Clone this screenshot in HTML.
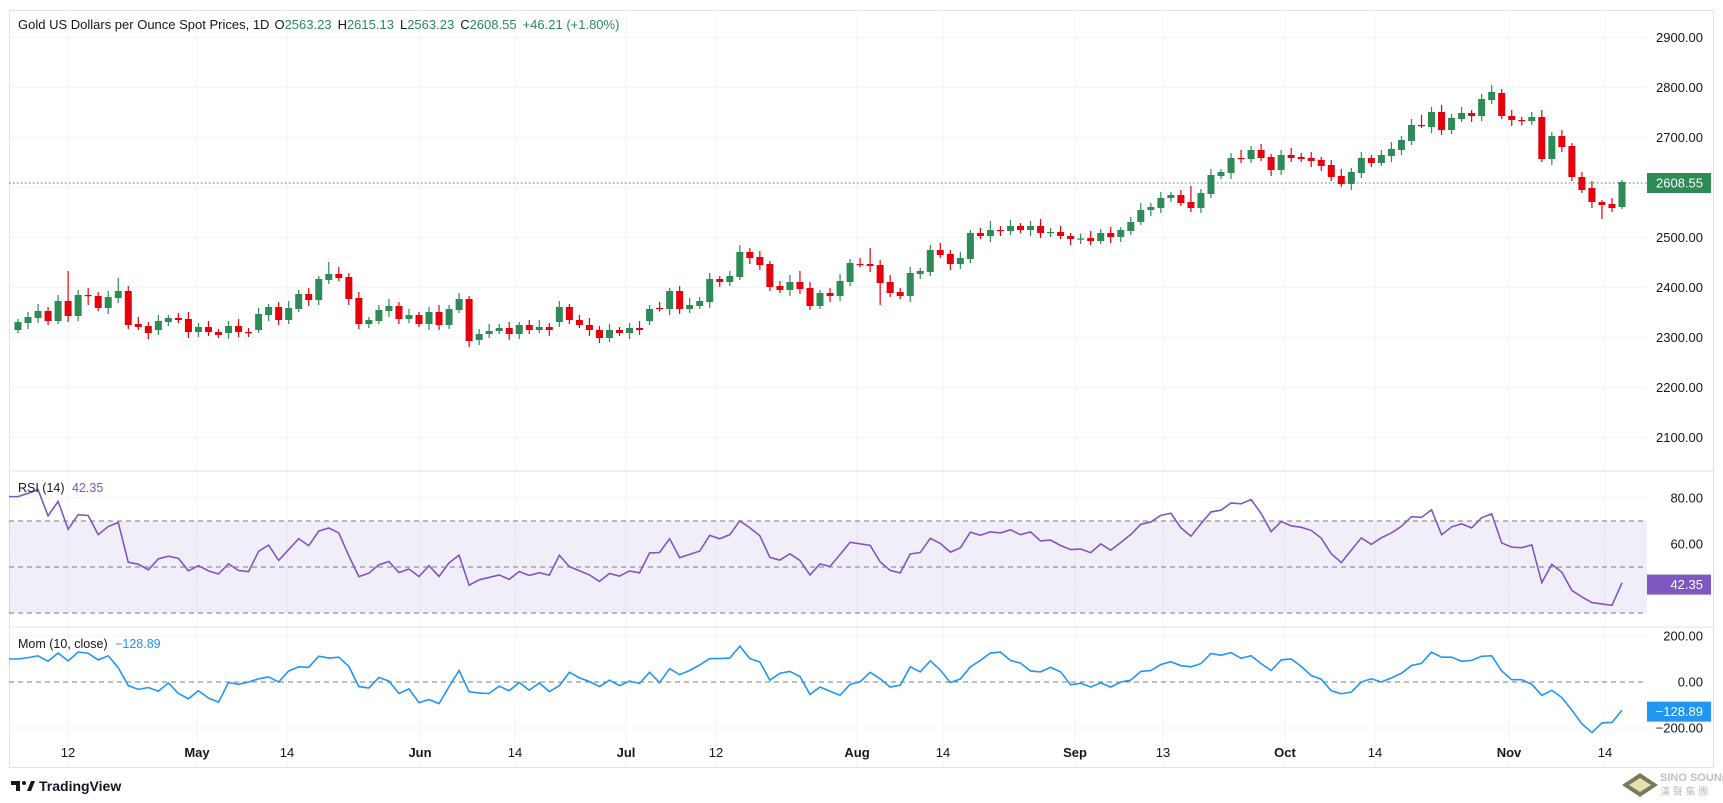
<!DOCTYPE html>
<html><head><meta charset="utf-8"><style>
html,body{margin:0;padding:0;background:#fff;width:1723px;height:803px;overflow:hidden}
svg{display:block}
text{font-family:"Liberation Sans",sans-serif}
</style></head><body>
<svg id="s" width="1723" height="803" xmlns="http://www.w3.org/2000/svg"></svg>
<script>
const D=[[330,322],[323,317],[318,311],[311,321],[321,301],[301,316,271],[316,295],[295,295.5,288,305],[296,308],[308,297],[298,291,278],[291,325],[324,327],[326,333],[330,321],[322,318],[318,320],[319,332],[332,327],[327,332],[332,335],[333,326],[326,332],[332,333],[330,314],[315,307],[307,320],[320,308],[309,294],[294,300],[300,279],[280,274,262],[274,278],[277,299],[298,324],[324,320],[321,310],[311,306],[306,319],[319,315],[315,324],[324,312],[312,325],[325,309],[310,299],[299,341],[340,334],[334,331],[331,328],[328,334],[334,325],[325,330],[330,327],[327,330],[322,307],[307,320],[320,325],[325,330],[330,338],[338,330],[330,333],[333,328],[328,330],[321,309],[308,308.5],[309,291],[291,309],[309,305],[306,301],[302,279],[279,282],[282,276],[277,252],[252,258],[257,265],[264,287],[286,290],[290,282],[282,289,271],[288,306],[306,293],[293,296],[296,281],[282,263],[264,264.5],[264,266,248],[265,283,260,305],[282,293],[292,296],[296,273],[274,271],[272,250],[250,255],[254,264],[264,258],[259,233],[233,236],[236,230,221],[230,231],[231,226],[226,230],[230,226],[226,233],[233,232],[232,236],[236,239],[239,238.5],[238,241],[241,233],[233,237],[237,230],[231,222],[222,210],[210,207],[208,198],[198,195],[195,203],[202,208,186,212],[208,193],[194,175],[176,172],[173,158],[158,158.5,150,163],[159,150],[150,158],[157,170],[170,155],[155,158],[157,159],[158,161],[160,166],[165,177],[176,184],[184,172],[173,158],[158,163],[163,155],[156,149],[150,140],[141,125],[125,125.5,115,128],[127,112],[112,130],[130,118],[119,113],[113,116],[116,99],[100,92],[93,116],[116,120],[120,120.5],[121,117],[117,159],[159,136],[136,147],[146,177],[177,190],[188,202],[202,205,200,219],[204,208],[207,182,180,209]];
const G="#2e8a57",R="#e6000b";
let h='';
const L=9,RX=1647;
const VX=[68,197,287,420,515,626,716,857,943,1075,1163,1285,1375,1509,1605];
const VL=["12","May","14","Jun","14","Jul","12","Aug","14","Sep","13","Oct","14","Nov","14"];
VX.forEach(x=>h+=`<line x1="${x}" y1="10" x2="${x}" y2="767" stroke="#f0f3fa" stroke-width="1"/>`);
for(let k=0;k<9;k++){const y=37.3+50*k;h+=`<line x1="${L}" y1="${y}" x2="${RX}" y2="${y}" stroke="#f0f3fa"/>`;h+=`<text x="1703" y="${y+4.5}" font-size="13" fill="#131722" text-anchor="end">${2900-100*k}.00</text>`;}
h+=`<rect x="${L}.5" y="10.5" width="1704" height="757" fill="none" stroke="#e0e3eb"/>`;
h+=`<line x1="${L}" y1="471" x2="1713" y2="471" stroke="#e0e3eb"/><line x1="${L}" y1="627" x2="1713" y2="627" stroke="#e0e3eb"/>`;
h+=`<line x1="${L}" y1="183" x2="${RX}" y2="183" stroke="${G}" stroke-dasharray="1.5 2.5"/>`;
const cx=i=>18+i*10.025;
D.forEach((d,i)=>{const [o,c]=d;const g=c<=o;const col=g?G:R;const top=Math.min(o,c),bot=Math.max(o,c);
 const hi=d[2]!==undefined?d[2]:top-3-(i*7%5);const lo=d[3]!==undefined?d[3]:bot+3+(i*3%4);const x=cx(i);
 h+=`<line x1="${x}" y1="${hi}" x2="${x}" y2="${lo}" stroke="${col}" stroke-width="1.2"/>`;
 h+=`<rect x="${x-3.5}" y="${top}" width="7" height="${Math.max(1.2,bot-top)}" fill="${col}"/>`;});
const P=D.map(d=>2900-(d[1]-37.3)*2);
let ag=8,al=2,rsi=[];
for(let i=0;i<P.length;i++){const ch=i?P[i]-P[i-1]:4;const g=Math.max(ch,0),l=Math.max(-ch,0);ag=(ag*13+g)/14;al=(al*13+l)/14;rsi.push(100-100/(1+ag/al));}
const mom=P.map((p,i)=>i>=10?p-P[i-10]:p-(P[0]-100+i*4));
const ry=v=>498+(80-v)*2.3;
h+=`<rect x="${L}" y="${ry(70)}" width="${RX-L}" height="${ry(30)-ry(70)}" fill="rgba(126,87,194,0.1)"/>`;
[80,60,40].forEach(v=>h+=`<line x1="${L}" y1="${ry(v)}" x2="${RX}" y2="${ry(v)}" stroke="#f0f3fa"/>`);
[70,50,30].forEach(v=>h+=`<line x1="${L}" y1="${ry(v)}" x2="${RX}" y2="${ry(v)}" stroke="#787b86" stroke-dasharray="5 4"/>`);
let pr=`${L},${ry(rsi[0])} `+rsi.map((v,i)=>`${cx(i)},${ry(v)}`).join(' ');
h+=`<polyline points="${pr}" fill="none" stroke="#7e57c2" stroke-width="1.6"/>`;
h+=`<text x="1703" y="${ry(80)+4.5}" font-size="13" fill="#131722" text-anchor="end">80.00</text><text x="1703" y="${ry(60)+4.5}" font-size="13" fill="#131722" text-anchor="end">60.00</text>`;
h+=`<rect x="1647" y="${ry(42.35)-10}" width="64" height="20" fill="#7e57c2"/><text x="1703" y="${ry(42.35)+4.5}" font-size="13" fill="#fff" text-anchor="end">42.35</text>`;
const my=v=>682-v*0.23;
h+=`<line x1="${L}" y1="${my(200)}" x2="${RX}" y2="${my(200)}" stroke="#f0f3fa"/><line x1="${L}" y1="${my(-200)}" x2="${RX}" y2="${my(-200)}" stroke="#f0f3fa"/>`;
h+=`<line x1="${L}" y1="${my(0)}" x2="${RX}" y2="${my(0)}" stroke="#787b86" stroke-dasharray="5 4"/>`;
let pm=`${L},${my(mom[0])} `+mom.map((v,i)=>`${cx(i)},${my(v)}`).join(' ');
h+=`<polyline points="${pm}" fill="none" stroke="#2196f3" stroke-width="1.6"/>`;
[[200,"200.00"],[0,"0.00"],[-200,"\u2212200.00"]].forEach(([v,t])=>h+=`<text x="1703" y="${my(v)+4.5}" font-size="13" fill="#131722" text-anchor="end">${t}</text>`);
h+=`<rect x="1647" y="${my(-128.89)-10}" width="64" height="20" fill="#2196f3"/><text x="1703" y="${my(-128.89)+4.5}" font-size="13" fill="#fff" text-anchor="end">\u2212128.89</text>`;
h+=`<rect x="1647" y="173" width="64" height="20" fill="${G}"/><text x="1703" y="187.5" font-size="13" fill="#fff" text-anchor="end">2608.55</text>`;
VX.forEach((x,i)=>{const b=isNaN(+VL[i]);h+=`<text x="${x}" y="757" font-size="13" fill="#131722" text-anchor="middle" ${b?'font-weight="bold"':''}>${VL[i]}</text>`;});
h+=`<text x="18" y="29" font-size="13" fill="#131722">Gold US Dollars per Ounce Spot Prices, 1D<tspan dx="5">O</tspan><tspan fill="${G}">2563.23</tspan><tspan dx="6">H</tspan><tspan fill="${G}">2615.13</tspan><tspan dx="6">L</tspan><tspan fill="${G}">2563.23</tspan><tspan dx="6">C</tspan><tspan fill="${G}">2608.55</tspan><tspan dx="6" fill="${G}">+46.21 (+1.80%)</tspan></text>`;
h+=`<text x="18" y="492" font-size="12.5" fill="#131722">RSI (14) <tspan fill="#7e57c2" dx="4">42.35</tspan></text>`;
h+=`<text x="18" y="648" font-size="12.5" fill="#131722">Mom (10, close) <tspan fill="#2196f3" dx="4">\u2212128.89</tspan></text>`;
h+=`<path d="M11 781h9v10h-4v-6h-5z" fill="#131722"/><circle cx="24" cy="783" r="2" fill="#131722"/><path d="M27 791l4-10h4l-4 10z" fill="#131722"/>`;
h+=`<text x="39" y="791" font-size="14" font-weight="bold" fill="#131722">TradingView</text>`;
h+=`<polygon points="1622,785 1640,773 1658,785 1640,797" fill="#7a7a5a"/><polygon points="1629,785 1640,778 1651,785 1640,792" fill="#e6e2b0"/>`;
h+=`<text x="1660" y="781" font-size="11" font-weight="bold" fill="#c0c0c0">SINO SOUND</text><text x="1660" y="795" font-size="10" fill="#c0c0c0" font-family="Noto Sans CJK SC">漢 聲 集 團</text>`;
document.getElementById('s').innerHTML=h;
</script>
</body></html>
